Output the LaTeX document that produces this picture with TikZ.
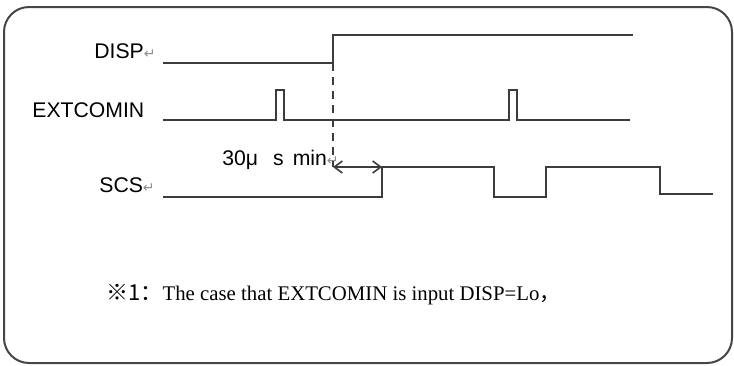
\documentclass[tikz,border=0pt]{standalone}
\usepackage{fontspec}
\setmainfont{Liberation Serif}
\setsansfont{Liberation Sans}
\newfontfamily\cjk{Noto Sans CJK SC}
\newfontfamily\symfont{DejaVu Sans}
\usepackage{xcolor}
\usetikzlibrary{arrows.meta,calc,positioning}
\definecolor{waveline}{RGB}{60,60,60}
\definecolor{framegray}{RGB}{70,70,70}
\definecolor{markgray}{RGB}{140,140,140}
\newcommand{\parmark}{{\symfont\color{markgray}\fontsize{7}{7}\selectfont ↵}}

\begin{document}
\begin{tikzpicture}[
    x=0.5pt, y=-0.5pt,
    sig/.style={font=\sffamily\fontsize{10.6}{12}\selectfont, inner sep=0pt, anchor=base west},
    wave/.style={draw=waveline, line width=1.2pt},
    guide/.style={draw=waveline, line width=0.9pt, dash pattern=on 4pt off 3pt},
    span/.style={{Straight Barb[length=4pt,width=6pt]}-{Straight Barb[length=4pt,width=6pt]}, draw=waveline, line width=0.8pt}
  ]
    \useasboundingbox (0,0) rectangle (734,365);
    \draw[framegray, line width=1pt, rounded corners=12.5pt] (4,7) rectangle (732,363);
    \node[sig] (disp) at (94,58) {DISP\parmark};
    \node[sig] (extcomin) at (32,117) {EXTCOMIN};
    \node[sig] (scs) at (99,192) {SCS\parmark};
    \node[sig] (minwidth) at (222,165) {30μ\hspace{7.5pt}s\hspace{4.5pt}min\parmark};
    \node[anchor=base west, inner sep=0pt, font=\fontsize{10.4}{13}\selectfont] (note) at (106,300)
      {{\cjk\fontsize{11}{13}\selectfont ※1：}The case that EXTCOMIN is input DISP=Lo{\cjk ，}};
    \coordinate (disprise) at (333,63);
    \coordinate (dashend) at (333,167);
    \coordinate (scsrise) at (382,167);
    \draw[wave] (163,63) -- (disprise) -- (333,35) -- (633,35);
    \draw[wave] (163,120) -- (276,120) -- (276,90) -- (284,90) -- (284,120)
      -- (509,120) -- (509,90) -- (517,90) -- (517,120) -- (630,120);
    \draw[wave] (163,197) -- (382,197) -- (scsrise) -- (494,167) -- (494,197)
      -- (546,197) -- (546,167) -- (660,167) -- (660,194) -- (713,194);
    \draw[guide] (disprise) -- (dashend);
    \draw[span] (dashend) -- (scsrise);
  \end{tikzpicture}
\end{document}
